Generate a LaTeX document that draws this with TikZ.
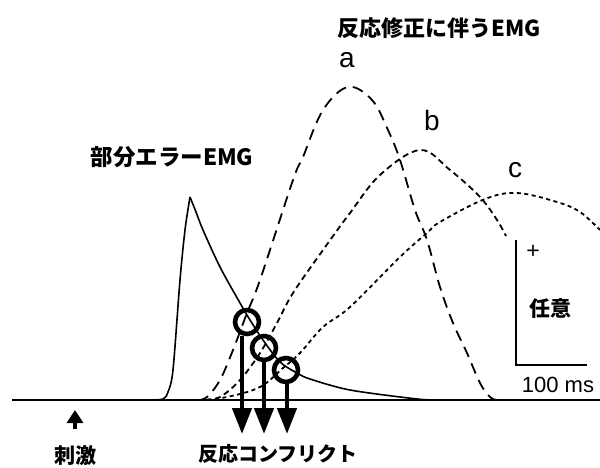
\documentclass[tikz,border=0pt]{standalone}
\usepackage{fontspec}
\setmainfont{Liberation Sans}
\newfontfamily\jp{Noto Sans CJK JP}
\usetikzlibrary{arrows.meta}
\tikzset{
  jplabel/.style={font=\jp\bfseries\fontsize{21}{23}\selectfont, inner sep=0pt},
  letterlabel/.style={font=\fontsize{28}{30}\selectfont, inner sep=0pt},
  curveA/.style={line width=1.8pt, dash pattern=on 11pt off 7pt},
  curveB/.style={line width=1.8pt, dash pattern=on 6pt off 4pt},
  curveC/.style={line width=1.8pt, dash pattern=on 4pt off 3.5pt},
  emg/.style={line width=1.6pt},
  ring/.style={circle, draw, line width=4.6pt, minimum size=24pt, inner sep=0pt},
  bigarrow/.style={line width=4.4pt, -{Triangle[length=26pt,width=19pt]}},
  stimarrow/.style={line width=4.4pt, -{Triangle[length=13pt,width=16pt]}},
}
\begin{document}
\begin{tikzpicture}[x=1pt,y=-1pt]
\useasboundingbox (0,0) rectangle (600,468);
% baseline
\coordinate (b0) at (12,400);
\coordinate (b1) at (600,400);
\draw[line width=1.8pt] (b0) -- (b1);
% partial error EMG
\draw[emg] plot[smooth,tension=0.5] coordinates {(150,400) (163,399) (168,392) (173,370) (180,280) (185,230) (190,197)};
\draw[emg] plot[smooth,tension=0.5] coordinates {(190,197) (196,212) (203,230) (220,267) (240,303) (250,320) (263,340) (280,362) (297,373) (310,379) (350,390) (417,399) (440,400)};
% curve a
\draw[curveA] plot[smooth,tension=0.6] coordinates {(198,400) (207,397) (220,380) (233,350) (247,313) (260,280) (293,180) (303,157) (323,110) (348,87) (372,100) (388,130) (400,160) (415,210) (427,240) (440,287) (453,323) (467,353) (480,383) (490,397) (497,400)};
% curve b
\draw[curveB] plot[smooth,tension=0.6] coordinates {(205,400) (220,397) (240,380) (260,353) (277,323) (293,293) (323,250) (350,213) (380,175) (420,150) (450,170) (480,197) (497,220) (506,236)};
% curve c
\draw[curveC] plot[smooth,tension=0.6] coordinates {(200,400) (227,397) (260,387) (283,368) (300,353) (323,327) (350,307) (400,257) (427,233) (440,222) (485,199) (517,193) (557,202) (580,212) (600,230)};
% rings and arrows
\node[ring] (r1) at (247,322) {};
\node[ring] (r2) at (264,348) {};
\node[ring] (r3) at (286,370) {};
\coordinate (t1) at (242,434);
\coordinate (t2) at (264,434);
\coordinate (t3) at (287,434);
\draw[bigarrow] (t1 |- r1.south) -- (t1);
\draw[bigarrow] (t2 |- r2.south) -- (t2);
\draw[bigarrow] (t3 |- r3.south) -- (t3);
% stimulus arrow
\coordinate (s0) at (75,429);
\coordinate (s1) at (75,410);
\draw[stimarrow] (s0) -- (s1);
% scale bar
\coordinate (sb0) at (516,240);
\coordinate (sb1) at (516,365);
\coordinate (sb2) at (587,365);
\draw[line width=1.6pt] (sb0) -- (sb1) -- (sb2);
\node[font=\fontsize{23}{24}\selectfont, inner sep=0pt] (plus) at (533,252) {+};
\node[jplabel] (nini) at (550,308) {任意};
\node[font=\fontsize{22}{24}\selectfont, inner sep=0pt] (ms) at (558,385) {100 ms};
% labels
\node[jplabel, font=\jp\bfseries\fontsize{22}{24}\selectfont] (title) at (439,28) {反応修正に伴うEMG};
\node[jplabel, font=\jp\bfseries\fontsize{22.5}{24}\selectfont] (partial) at (172,157) {部分エラーEMG};
\node[letterlabel] (la) at (347,60) {a};
\node[letterlabel] (lb) at (432,120) {b};
\node[letterlabel] (lc) at (515,170) {c};
\node[jplabel] (stim) at (75,456) {刺激};
\node[jplabel, font=\jp\bfseries\fontsize{20}{22}\selectfont] (conf) at (278,454) {反応コンフリクト};
\end{tikzpicture}
\end{document}
